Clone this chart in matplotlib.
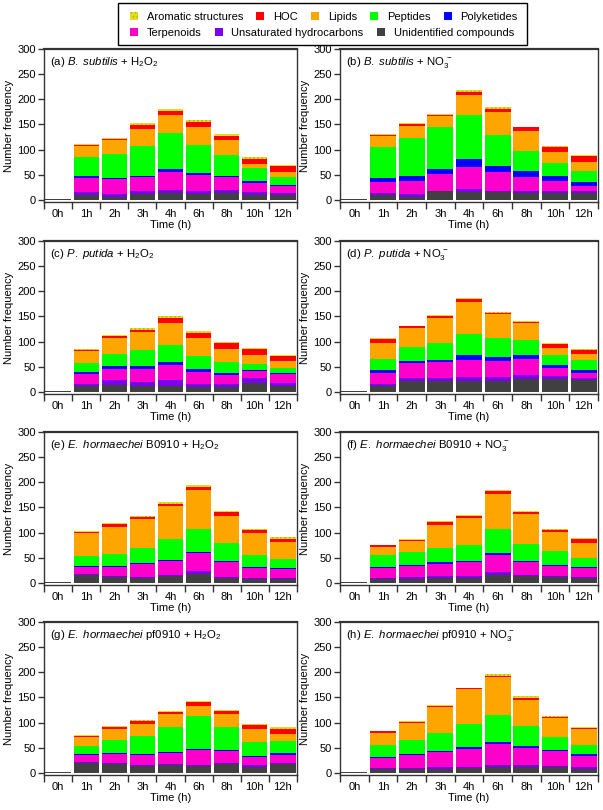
import matplotlib
matplotlib.use("Agg")
import matplotlib.pyplot as plt
import numpy as np
from matplotlib.patches import Patch, Rectangle

plt.rcParams['font.family'] = ['Liberation Sans', 'DejaVu Sans']
plt.rcParams['mathtext.fontset'] = 'custom'
plt.rcParams['mathtext.rm'] = 'Liberation Sans'
plt.rcParams['mathtext.it'] = 'Liberation Sans:italic'
plt.rcParams['hatch.linewidth'] = 0.7

times = ["0h", "1h", "2h", "3h", "4h", "6h", "8h", "10h", "12h"]

# stacking order, bottom to top
categories = ["Unidentified compounds", "Unsaturated hydrocarbons", "Terpenoids",
              "Polyketides", "Peptides", "Lipids", "HOC", "Aromatic structures"]
colors = ["#404040", "#7A00EE", "#FF00CC", "#0000FF", "#00FF00", "#FFA500",
          "#FF0000", "#E4DC20"]

# rows follow `categories`, columns follow `times`
counts_a = [[2, 9, 6, 11, 13, 12, 13, 10, 9],
            [0, 6, 6, 6, 6, 6, 6, 6, 5],
            [0, 28, 29, 28, 36, 31, 26, 17, 13],
            [0, 4, 3, 3, 6, 4, 3, 5, 2],
            [0, 39, 47, 60, 72, 57, 42, 25, 17],
            [0, 21, 28, 34, 36, 36, 30, 9, 9],
            [0, 3, 3, 7, 8, 8, 8, 10, 12],
            [0, 2, 2, 3, 4, 4, 4, 4, 2]]
counts_b = [[2, 10, 6, 17, 16, 15, 13, 14, 13],
            [0, 4, 5, 1, 6, 3, 4, 3, 4],
            [0, 21, 26, 33, 44, 37, 29, 20, 11],
            [0, 8, 10, 11, 16, 12, 11, 11, 7],
            [0, 63, 77, 83, 87, 62, 41, 26, 23],
            [0, 21, 23, 21, 40, 45, 39, 21, 18],
            [0, 3, 3, 2, 5, 7, 8, 10, 11],
            [0, 2, 2, 2, 4, 3, 1, 2, 2]]
counts_c = [[2, 11, 14, 12, 12, 10, 10, 18, 12],
            [0, 5, 9, 8, 11, 6, 5, 9, 5],
            [0, 20, 22, 26, 30, 24, 19, 15, 18],
            [0, 3, 6, 6, 7, 5, 4, 2, 3],
            [0, 19, 25, 31, 34, 27, 21, 12, 9],
            [0, 23, 31, 37, 44, 35, 26, 18, 14],
            [0, 3, 5, 4, 9, 10, 12, 12, 10],
            [0, 1, 2, 3, 4, 4, 3, 1, 2]]
counts_d = [[2, 12, 21, 21, 22, 21, 25, 26, 23],
            [0, 4, 7, 7, 8, 8, 9, 5, 5],
            [0, 21, 29, 32, 33, 33, 32, 16, 10],
            [0, 6, 4, 3, 10, 7, 7, 7, 5],
            [0, 22, 28, 35, 43, 38, 31, 20, 21],
            [0, 32, 39, 49, 62, 47, 33, 14, 11],
            [0, 9, 3, 4, 6, 3, 3, 8, 9],
            [0, 1, 1, 2, 2, 2, 1, 2, 2]]
counts_e = [[2, 15, 12, 10, 13, 18, 10, 7, 7],
            [0, 2, 2, 2, 3, 5, 2, 2, 3],
            [0, 14, 18, 25, 27, 36, 29, 21, 17],
            [0, 2, 2, 3, 2, 2, 3, 2, 2],
            [0, 20, 24, 29, 42, 47, 36, 24, 19],
            [0, 46, 53, 58, 65, 76, 53, 43, 33],
            [0, 3, 6, 5, 5, 7, 8, 6, 7],
            [0, 2, 2, 2, 3, 3, 2, 2, 3]]
counts_f = [[2, 8, 8, 10, 10, 15, 13, 11, 10],
            [0, 2, 4, 3, 3, 7, 2, 2, 2],
            [0, 20, 21, 24, 28, 34, 26, 20, 18],
            [0, 2, 2, 4, 2, 4, 2, 2, 1],
            [0, 23, 26, 28, 33, 47, 34, 29, 18],
            [0, 17, 22, 47, 53, 69, 60, 38, 30],
            [0, 3, 3, 5, 5, 6, 4, 3, 8],
            [0, 1, 1, 2, 2, 2, 2, 2, 2]]
counts_g = [[2, 19, 17, 13, 15, 13, 17, 12, 17],
            [0, 2, 2, 3, 2, 3, 3, 3, 3],
            [0, 14, 18, 19, 23, 29, 23, 17, 16],
            [0, 2, 3, 2, 2, 2, 3, 2, 3],
            [0, 16, 26, 36, 49, 66, 46, 28, 25],
            [0, 19, 22, 25, 26, 21, 25, 25, 13],
            [0, 2, 4, 6, 4, 7, 7, 8, 11],
            [0, 1, 2, 2, 2, 3, 2, 2, 3]]
counts_h = [[2, 7, 7, 8, 9, 12, 12, 11, 8],
            [0, 2, 3, 3, 3, 3, 3, 3, 3],
            [0, 20, 26, 31, 36, 43, 35, 29, 23],
            [0, 2, 2, 2, 3, 4, 3, 3, 3],
            [0, 24, 28, 36, 46, 53, 40, 25, 18],
            [0, 25, 34, 52, 69, 75, 53, 38, 32],
            [0, 3, 2, 2, 2, 3, 3, 3, 3],
            [0, 1, 1, 1, 1, 3, 3, 2, 2]]

h2o2 = r" + H$_2$O$_2$"
no3 = r" + NO$_3^{\,-}$"
titles = [r"(a) $\it{B.\ subtilis}$" + h2o2,
          r"(b) $\it{B.\ subtilis}$" + no3,
          r"(c) $\it{P.\ putida}$" + h2o2,
          r"(d) $\it{P.\ putida}$" + no3,
          r"(e) $\it{E.\ hormaechei}$ B0910" + h2o2,
          r"(f) $\it{E.\ hormaechei}$ B0910" + no3,
          r"(g) $\it{E.\ hormaechei}$ pf0910" + h2o2,
          r"(h) $\it{E.\ hormaechei}$ pf0910" + no3]
panels = [counts_a, counts_b, counts_c, counts_d,
          counts_e, counts_f, counts_g, counts_h]

fig = plt.figure(figsize=(6.03, 8.10), dpi=100)

lefts = [44 / 603, 340 / 603]
widths = [253 / 603, 258 / 603]
bottoms = [1 - 202 / 810, 1 - 394 / 810, 1 - 585 / 810, 1 - 775 / 810]
height = 153 / 810
spine_col = "#333333"
hatch_col = "#B8B000"

x = np.arange(len(times))
for i, (counts, title) in enumerate(zip(panels, titles)):
    row, col = divmod(i, 2)
    ax = fig.add_axes([lefts[col], bottoms[row], widths[col], height])
    bottom = np.zeros(len(times))
    for vals, color, cat in zip(counts, colors, categories):
        vals = np.array(vals, dtype=float)
        if cat == "Aromatic structures":
            ax.bar(x, vals, 0.9, bottom=bottom, color=color, hatch="....",
                   edgecolor=hatch_col, linewidth=0)
        else:
            ax.bar(x, vals, 0.9, bottom=bottom, color=color, linewidth=0)
        bottom += vals

    ax.set_xlim(-0.5, len(times) - 0.5)
    ax.set_ylim(-4, 300)
    ax.set_yticks(range(0, 301, 50))
    ax.set_xticks(x, times)
    ax.set_xticks(np.arange(-0.5, len(times), 1), minor=True)
    ax.tick_params(axis="x", which="major", length=0, labelsize=8, pad=5)
    ax.tick_params(axis="x", which="minor", length=5, width=1, color=spine_col)
    ax.tick_params(axis="y", length=4, width=1, labelsize=8, pad=2, color=spine_col)
    for s in ax.spines.values():
        s.set_color(spine_col)
        s.set_linewidth(1.0)
    ax.spines["top"].set_linewidth(1.6)
    ax.set_ylabel("Number frequency", fontsize=8, labelpad=2)
    ax.set_xlabel("Time (h)", fontsize=8, labelpad=1)
    ax.text(0.025, 0.915, title, transform=ax.transAxes, fontsize=8.2,
            va="center", ha="left")

# legend: two rows inside one frame
handles = {cat: Patch(facecolor=c, edgecolor=hatch_col if cat == "Aromatic structures" else c,
                      hatch="...." if cat == "Aromatic structures" else None, linewidth=0)
           for cat, c in zip(categories, colors)}
row1 = ["Aromatic structures", "HOC", "Lipids", "Peptides", "Polyketides"]
row2 = ["Terpenoids", "Unsaturated hydrocarbons", "Unidentified compounds"]
for labels, yc in [(row1, 1 - 17 / 810), (row2, 1 - 33 / 810)]:
    fig.legend([handles[l] for l in labels], labels, ncol=len(labels),
               loc="center left", bbox_to_anchor=(130 / 603, yc), frameon=False,
               fontsize=8, handlelength=0.7, handleheight=0.7, handletextpad=0.8,
               columnspacing=1.2, borderpad=0, borderaxespad=0)
fig.add_artist(Rectangle((118 / 603, 1 - 45 / 810), 409 / 603, 42 / 810,
                         transform=fig.transFigure, fill=False, lw=1, ec="black"))

fig.savefig("out.png", dpi=100)
